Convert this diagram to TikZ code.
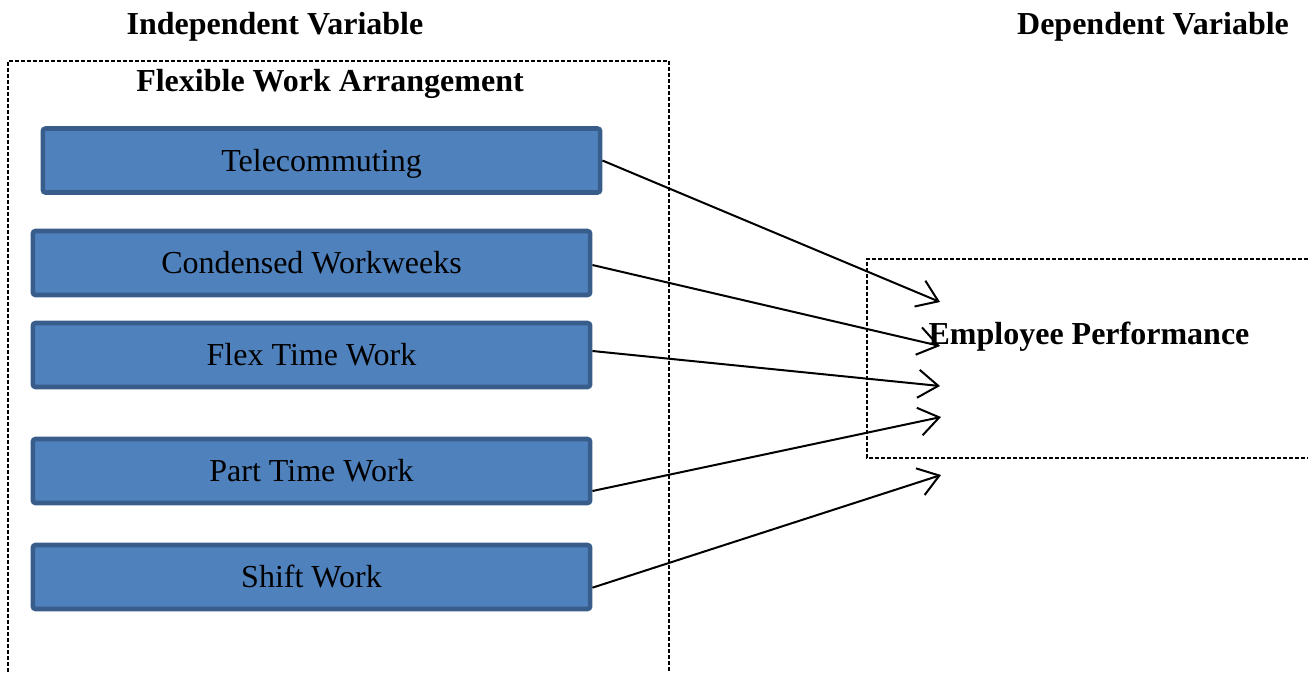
\documentclass[tikz,border=0pt]{standalone}
\usepackage{fontspec}
\setmainfont{Liberation Serif}
\usetikzlibrary{arrows.meta}
\definecolor{boxfill}{HTML}{4F81BD}
\definecolor{boxline}{HTML}{385D8A}
\begin{document}
\begin{tikzpicture}[x=0.75pt, y=-0.75pt,
        varbox/.style={draw=boxline, fill=boxfill, line width=3.4pt, rounded corners=2pt,
            minimum width=418pt, minimum height=48pt, inner sep=0pt,
            text height=16pt, text depth=0pt,
            font=\fontsize{24}{28}\selectfont},
        heading/.style={font=\fontsize{24}{28}\selectfont\bfseries, inner sep=0pt,
            text height=16pt, text depth=0pt},
        frame/.style={dash pattern=on 3pt off 1.5pt, line width=1.2pt},
        link/.style={-{Straight Barb[length=15pt,width=21pt]}, line width=1.5pt}]
    \useasboundingbox (0,0) rectangle (1308,672);
    \node[heading] (indep) at (275,24) {Independent Variable};
    \node[heading] (dep) at (1153,24) {Dependent Variable};
    \draw[frame] (8,672) -- (8,61) -- (669,61) -- (669,672);
    \node[heading] (fwa) at (330,81) {Flexible Work Arrangement};
    \node[varbox] (tele) at (321.5,160.5) {Telecommuting};
    \node[varbox] (cond) at (311.5,263) {Condensed Workweeks};
    \node[varbox] (flex) at (311.5,355) {Flex Time Work};
    \node[varbox] (part) at (311.5,471) {Part Time Work};
    \node[varbox] (shift) at (311.5,577) {Shift Work};
    \draw[frame] (1308,259) -- (867,259) -- (867,458) -- (1308,458);
    \node[heading] (perf) at (1089,334) {Employee Performance};
    \coordinate (t1) at (940,302);
    \coordinate (t2) at (940,346);
    \coordinate (t3) at (940,386);
    \coordinate (t4) at (941,417);
    \coordinate (t5) at (941,475);
    \draw[link] (tele.east) -- (t1);
    \draw[link] ([yshift=-1.5pt]cond.east) -- (t2);
    \draw[link] ([yshift=3pt]flex.east) -- (t3);
    \draw[link] ([yshift=-15pt]part.east) -- (t4);
    \draw[link] ([yshift=-8pt]shift.east) -- (t5);
\end{tikzpicture}
\end{document}
